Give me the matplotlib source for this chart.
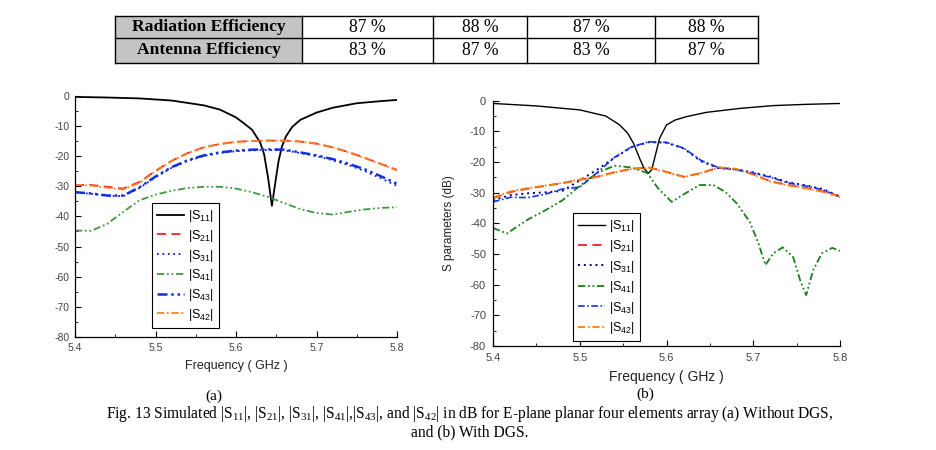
import matplotlib
matplotlib.use("Agg")
import matplotlib.pyplot as plt
from matplotlib.patches import Rectangle
from matplotlib.ticker import MultipleLocator

# ─── Table data ─────────────────────────────────────────────
ROW_LABELS = ["Radiation Efficiency", "Antenna Efficiency"]
RAD_EFF = ["87 %", "88 %", "87 %", "88 %"]
ANT_EFF = ["83 %", "87 %", "83 %", "87 %"]

# ─── (a) Without DGS ────────────────────────────────────────
FREQ = [5.40, 5.42, 5.44, 5.46, 5.48, 5.50, 5.52, 5.54, 5.56, 5.58, 5.60,
        5.62, 5.64, 5.66, 5.68, 5.70, 5.72, 5.74, 5.76, 5.78, 5.80]

FREQ_S11_A = [5.40, 5.44, 5.48, 5.52, 5.56, 5.58, 5.60, 5.61, 5.62, 5.63, 5.635,
              5.64, 5.6446, 5.649, 5.653, 5.657, 5.662, 5.67, 5.68, 5.70, 5.72,
              5.75, 5.78, 5.80]
S11_A = [-0.4, -0.6, -0.9, -1.6, -3.2, -4.6, -7.2, -9.2, -11.3, -15.5, -19.5,
         -27.5, -36.5, -28.5, -21.5, -16.9, -13.5, -10.3, -8.0, -5.6, -4.0,
         -2.5, -1.8, -1.4]
S21_A = [-29.6, -29.6, -30.2, -30.8, -28.6, -24.9, -21.6, -19.0, -17.1, -16.0, -15.3,
         -15.0, -14.9, -14.9, -15.2, -15.9, -17.1, -18.7, -20.6, -22.6, -24.6]
S31_A = [-32.1, -32.5, -33.2, -33.3, -30.6, -27.0, -23.9, -21.6, -20.0, -19.0, -18.4,
         -18.1, -18.0, -18.1, -19.0, -20.0, -21.4, -23.0, -25.0, -27.4, -29.9]
S41_A = [-44.7, -44.8, -42.5, -38.5, -34.7, -32.8, -31.5, -30.6, -30.2, -30.2, -30.8,
         -32.0, -33.6, -35.6, -37.6, -38.9, -39.4, -38.5, -37.7, -37.2, -37.0]
S43_A = [-32.0, -32.4, -33.1, -33.1, -30.4, -26.8, -23.7, -21.4, -19.8, -18.8, -18.2,
         -17.9, -17.8, -17.9, -18.8, -19.8, -21.0, -22.6, -24.4, -26.7, -29.2]
S42_A = [-29.5, -29.8, -30.5, -31.1, -28.9, -25.1, -21.7, -19.1, -17.2, -16.0, -15.3,
         -15.0, -14.9, -14.9, -15.2, -15.9, -17.2, -18.8, -20.7, -22.7, -24.8]

# ─── (b) With DGS ───────────────────────────────────────────
FREQ_S11_B = [5.40, 5.45, 5.50, 5.53, 5.546, 5.555, 5.562, 5.569, 5.574, 5.579,
              5.583, 5.587, 5.592, 5.60, 5.61, 5.623, 5.646, 5.685, 5.723, 5.76, 5.80]
S11_B = [-0.9, -1.7, -3.0, -5.0, -7.9, -10.5, -13.9, -18.8, -22.0, -23.7,
         -22.5, -18.0, -12.3, -7.9, -6.3, -5.2, -3.8, -2.5, -1.6, -1.2, -0.9]
S21_B = [-31.8, -29.8, -28.7, -27.8, -26.9, -25.8, -24.8, -23.3, -22.2, -21.8, -23.2,
         -24.8, -23.6, -21.8, -22.3, -24.0, -26.3, -27.5, -28.4, -29.6, -31.2]
S31_B = [-32.5, -30.8, -30.2, -29.9, -29.4, -26.0, -22.5, -18.6, -15.1, -13.5, -13.7,
         -15.6, -19.8, -22.0, -22.4, -23.4, -24.8, -26.6, -27.6, -28.8, -31.3]
FREQ_S41_B = [5.40, 5.416, 5.44, 5.46, 5.48, 5.50, 5.52, 5.54, 5.56, 5.578, 5.59,
              5.606, 5.62, 5.638, 5.654, 5.668, 5.681, 5.696, 5.706, 5.714, 5.723,
              5.734, 5.746, 5.754, 5.761, 5.769, 5.779, 5.791, 5.80]
S41_B = [-41.5, -43.3, -38.8, -35.8, -32.5, -27.8, -23.6, -21.2, -21.8, -23.6, -28.5,
         -33.0, -30.5, -27.5, -27.5, -29.8, -33.5, -39.5, -46.5, -53.6, -49.8,
         -47.8, -51.0, -58.5, -63.4, -55.3, -49.8, -48.0, -49.0]
S43_B = [-33.0, -31.5, -31.6, -30.5, -28.8, -28.2, -23.5, -18.5, -15.0, -13.4, -13.6,
         -15.5, -19.5, -21.8, -22.5, -23.6, -25.0, -26.8, -27.8, -29.0, -31.5]
S42_B = [-31.6, -29.6, -28.5, -27.7, -26.8, -25.7, -24.9, -23.4, -22.3, -21.9, -23.3,
         -24.9, -23.5, -21.7, -22.2, -24.1, -26.4, -27.6, -28.5, -29.7, -31.3]

LABELS = [r"|S$\mathregular{_{11}}$|", r"|S$\mathregular{_{21}}$|", r"|S$\mathregular{_{31}}$|",
          r"|S$\mathregular{_{41}}$|", r"|S$\mathregular{_{43}}$|", r"|S$\mathregular{_{42}}$|"]

SANS = "Liberation Sans"
SERIF = "Liberation Serif"
TICK_COL = "#444444"

plt.rcParams["font.family"] = SANS
plt.rcParams["axes.unicode_minus"] = False

DASH = (0, (5, 3))
DOT = (0, (1, 2))
DDOT = (0, (4, 1.5, 1, 1.5, 1, 1.5))
DASHDOT = (0, (4, 1.5, 1, 1.5))

fig = plt.figure(figsize=(9.36, 4.5), dpi=100)


def style_axes(ax, lsize):
    ax.set_xlim(5.4, 5.8)
    ax.set_ylim(-80, 0)
    ax.xaxis.set_major_locator(MultipleLocator(0.1))
    ax.xaxis.set_minor_locator(MultipleLocator(0.05))
    ax.yaxis.set_major_locator(MultipleLocator(10))
    ax.yaxis.set_minor_locator(MultipleLocator(5))
    ax.tick_params(which="major", direction="in", length=4, width=0.8,
                   labelsize=lsize, labelcolor=TICK_COL, pad=4)
    ax.tick_params(which="minor", direction="in", length=2, width=0.6)
    for side in ("top", "right"):
        ax.spines[side].set_visible(False)
    for side in ("left", "bottom"):
        ax.spines[side].set_linewidth(0.9)
    ax.set_xticklabels([f"{v:.1f}" for v in ax.get_xticks()])


# ══════════════════════════════════════════════════════════
# (a)
# ══════════════════════════════════════════════════════════
ax_a = fig.add_axes([75 / 936, 1 - 337 / 450, 322 / 936, 241.3 / 450])
ax_a.plot(FREQ_S11_A, S11_A, color="black", lw=1.3, label=LABELS[0])
ax_a.plot(FREQ, S21_A, color="#ff2020", lw=1.3, ls=DASH, label=LABELS[1])
ax_a.plot(FREQ, S31_A, color="#1a1acc", lw=1.3, ls=DOT, label=LABELS[2])
ax_a.plot(FREQ, S41_A, color="#3f9a3f", lw=1.3, ls=DDOT, label=LABELS[3])
ax_a.plot(FREQ, S43_A, color="#1030e0", lw=1.8, ls=DDOT, label=LABELS[4])
ax_a.plot(FREQ, S42_A, color="#ff8020", lw=1.3, ls=DASHDOT, label=LABELS[5])
style_axes(ax_a, 7.5)
ax_a.set_xlabel("Frequency ( GHz )", fontsize=9, color="#222222", labelpad=5)
leg = ax_a.legend(loc="upper left", bbox_to_anchor=(0.239, 0.555), borderaxespad=0,
                  fontsize=9, handlelength=2.2, handletextpad=0.3, labelspacing=0.3,
                  fancybox=False, edgecolor="black", framealpha=1, borderpad=0.4)
leg.get_frame().set_linewidth(0.8)

# ══════════════════════════════════════════════════════════
# (b)
# ══════════════════════════════════════════════════════════
ax_b = fig.add_axes([493 / 936, 1 - 346 / 450, 347 / 936, 245.3 / 450])
ax_b.plot(FREQ_S11_B, S11_B, color="black", lw=1.0, label=LABELS[0])
ax_b.plot(FREQ, S21_B, color="#ff2020", lw=1.3, ls=DASH, label=LABELS[1])
ax_b.plot(FREQ, S31_B, color="#000080", lw=1.4, ls=DOT, label=LABELS[2])
ax_b.plot(FREQ_S41_B, S41_B, color="#1a801a", lw=1.3, ls=DDOT, label=LABELS[3])
ax_b.plot(FREQ, S43_B, color="#1030ff", lw=1.2, ls=DASHDOT, label=LABELS[4])
ax_b.plot(FREQ, S42_B, color="#ff8000", lw=1.3, ls=DASHDOT, label=LABELS[5])
style_axes(ax_b, 8)
ax_b.tick_params(which="major", pad=5)
ax_b.set_xlabel("Frequency ( GHz )", fontsize=10, color="#222222", labelpad=5)
ax_b.set_ylabel("S parameters (dB)", fontsize=8.5, color="#222222")
ax_b.yaxis.set_label_coords(-0.11, 0.5)
leg = ax_b.legend(loc="upper left", bbox_to_anchor=(0.2305, 0.542), borderaxespad=0,
                  fontsize=9, handlelength=2.2, handletextpad=0.3, labelspacing=0.35,
                  fancybox=False, edgecolor="black", framealpha=1, borderpad=0.4)
leg.get_frame().set_linewidth(0.8)

# ══════════════════════════════════════════════════════════
# Table + captions (pixel overlay)
# ══════════════════════════════════════════════════════════
ov = fig.add_axes([0, 0, 1, 1], zorder=-1)
ov.set_xlim(0, 936)
ov.set_ylim(450, 0)
ov.axis("off")

col_edges = [115, 302, 433, 527, 655, 758]
row_edges = [16, 38.3, 62.7]
ov.add_patch(Rectangle((col_edges[0], row_edges[0]), col_edges[1] - col_edges[0],
                       row_edges[2] - row_edges[0], facecolor="#c4c4c4", edgecolor="none"))
for y in row_edges:
    ov.plot([col_edges[0], col_edges[-1]], [y, y], color="black", lw=1.0)
for x in col_edges:
    ov.plot([x, x], [row_edges[0], row_edges[-1]], color="black", lw=1.0)

rows = [RAD_EFF, ANT_EFF]
for r in range(2):
    yc = (row_edges[r] + row_edges[r + 1]) / 2
    ov.text((col_edges[0] + col_edges[1]) / 2, yc, ROW_LABELS[r], family=SERIF,
            fontsize=12.6, fontweight="bold", ha="center", va="center")
    for c, val in enumerate(rows[r]):
        xc = (col_edges[c + 1] + col_edges[c + 2]) / 2
        ov.text(xc, yc, val, family=SERIF, fontsize=12.7, ha="center", va="center")

ov.text(214, 396, "(a)", family=SERIF, fontsize=11, ha="center", va="center")
ov.text(645, 394, "(b)", family=SERIF, fontsize=11, ha="center", va="center")
ov.text(470, 414,
        r"Fig. 13 Simulated |S$\mathregular{_{11}}$|, |S$\mathregular{_{21}}$|, "
        r"|S$\mathregular{_{31}}$|, |S$\mathregular{_{41}}$|,|S$\mathregular{_{43}}$|, "
        r"and |S$\mathregular{_{42}}$| in dB for E-plane planar four elements array "
        r"(a) Without DGS,",
        family=SERIF, fontsize=11.2, ha="center", va="center")
ov.text(470, 432, "and (b) With DGS.", family=SERIF, fontsize=11.2,
        ha="center", va="center")

fig.savefig("out.png", dpi=100)
